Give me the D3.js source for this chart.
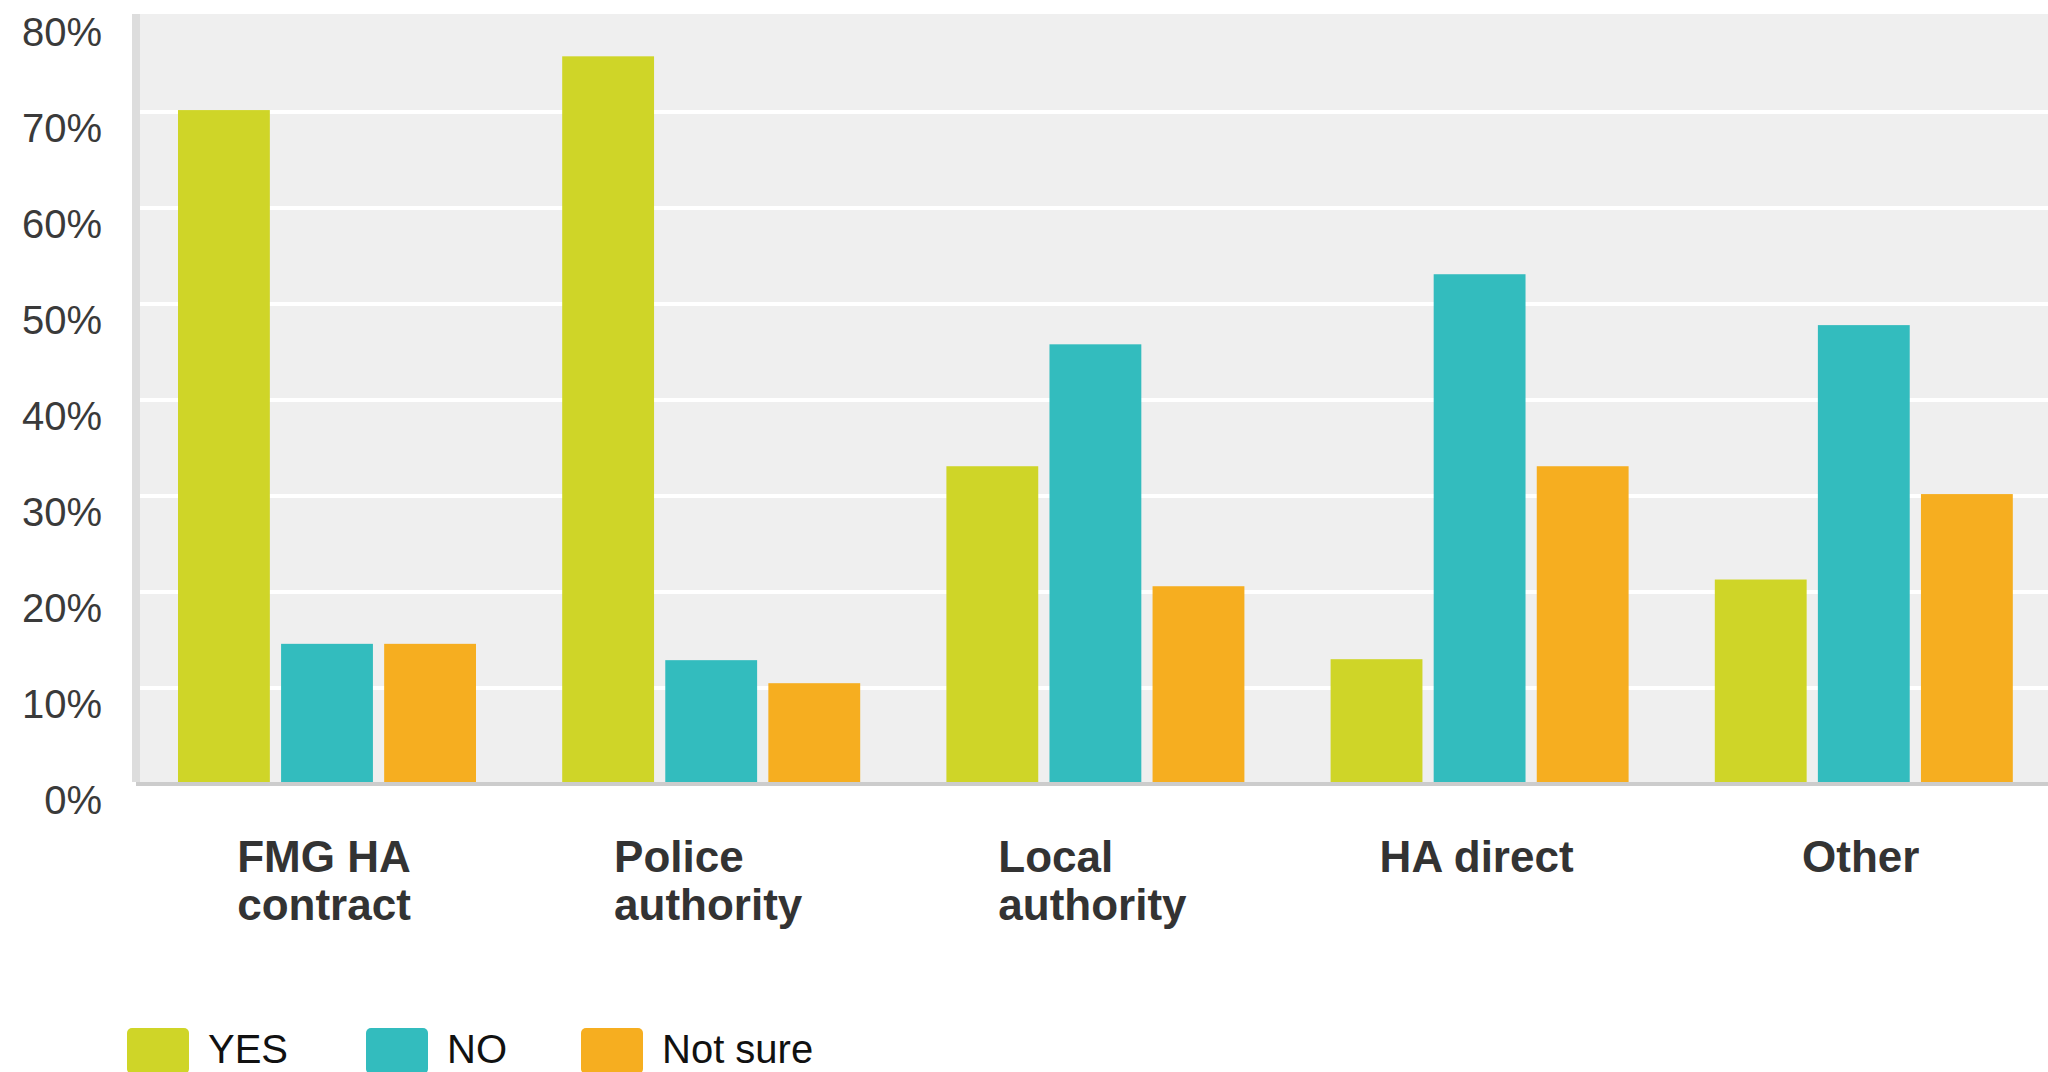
<!DOCTYPE html>
<html>
<head>
<meta charset="utf-8">
<script src="https://cdn.jsdelivr.net/npm/d3@7"></script>
<style>
  html, body { margin: 0; padding: 0; background: #ffffff; }
  svg { display: block; }
</style>
</head>
<body>
<svg id="chart" width="2048" height="1072"></svg>
<script>
// ---- Data ----
const categories = ["FMG HA contract", "Police authority", "Local authority", "HA direct", "Other"];
const categoryLines = [["FMG HA", "contract"], ["Police", "authority"], ["Local", "authority"], ["HA direct"], ["Other"]];
const seriesNames = ["YES", "NO", "Not sure"];
const yesValues = [70.2, 75.8, 33.1, 13.0, 21.3];
const noValues = [14.6, 12.9, 45.8, 53.1, 47.8];
const notSureValues = [14.6, 10.5, 20.6, 33.1, 30.2];
const seriesColors = ["#cfd528", "#33bcbe", "#f6ae20"];
const yTicks = [0, 10, 20, 30, 40, 50, 60, 70, 80];
const gridTicks = [10, 20, 30, 40, 50, 60, 70];

const seriesValues = [yesValues, noValues, notSureValues];
const rows = categories.map((c, i) => ({
  category: c,
  lines: categoryLines[i],
  values: seriesNames.map((s, j) => ({ series: s, value: seriesValues[j][i], color: seriesColors[j] }))
}));

// ---- Layout ----
const svg = d3.select("#chart");
const plotLeft = 140, plotRight = 2048, plotTop = 14, plotBottom = 782;
const legendSwatchX = [127, 366, 581];

const y = d3.scaleLinear().domain([0, 80]).range([784, 16]);
const x0 = d3.scaleBand().domain(categories).range([136, 2057]).padding(0);
const x1 = d3.scaleBand().domain(seriesNames).range([42, 340]).paddingInner(0.109).paddingOuter(0);

// plot background
svg.append("rect")
  .attr("x", plotLeft).attr("y", plotTop)
  .attr("width", plotRight - plotLeft).attr("height", plotBottom - plotTop)
  .attr("fill", "#efefef");
// left border
svg.append("rect")
  .attr("x", 132).attr("y", plotTop)
  .attr("width", 8).attr("height", plotBottom - plotTop)
  .attr("fill", "#dddddd");

// gridlines
svg.append("g").selectAll("line").data(gridTicks).join("line")
  .attr("x1", plotLeft).attr("x2", plotRight)
  .attr("y1", d => y(d)).attr("y2", d => y(d))
  .attr("stroke", "#ffffff").attr("stroke-width", 4);

// bars
const groups = svg.append("g").selectAll("g").data(rows).join("g")
  .attr("transform", d => `translate(${x0(d.category)},0)`);
groups.selectAll("rect").data(d => d.values).join("rect")
  .attr("x", d => x1(d.series))
  .attr("width", x1.bandwidth())
  .attr("y", d => y(d.value))
  .attr("height", d => y(0) - y(d.value))
  .attr("fill", d => d.color);

// bottom axis line
svg.append("rect")
  .attr("x", 136).attr("y", 782)
  .attr("width", plotRight - 136).attr("height", 4)
  .attr("fill", "#cccccc");

// y axis labels
const yAxis = d3.axisLeft(y).tickValues(yTicks).tickFormat(d => d + "%").tickSize(0).tickPadding(0);
const yg = svg.append("g").attr("transform", "translate(102,0)").call(yAxis);
yg.select(".domain").remove();
yg.selectAll("text")
  .attr("dy", null)
  .attr("y", 29)
  .attr("font-family", "'Liberation Sans', Arial, sans-serif")
  .attr("font-size", 40)
  .attr("fill", "#3a3a3a");

// category labels (block centred, lines left-aligned)
const catG = svg.append("g");
rows.forEach(r => {
  const cx = x0(r.category) + (x1.range()[0] + x1.range()[1]) / 2 - 3;
  const t = catG.append("text")
    .attr("font-family", "'Liberation Sans', Arial, sans-serif")
    .attr("font-weight", "bold")
    .attr("font-size", 44)
    .attr("fill", "#333333");
  const spans = r.lines.map((ln, i) => t.append("tspan").attr("y", 872 + i * 48).text(ln));
  const maxW = d3.max(spans, s => s.node().getComputedTextLength());
  spans.forEach(s => s.attr("x", cx - maxW / 2));
});

// legend
const legend = svg.append("g");
seriesNames.forEach((s, i) => {
  const lx = legendSwatchX[i];
  legend.append("rect")
    .attr("x", lx).attr("y", 1028)
    .attr("width", 62).attr("height", 46)
    .attr("rx", 5).attr("ry", 5)
    .attr("fill", seriesColors[i]);
  legend.append("text")
    .attr("x", lx + 81).attr("y", 1063)
    .attr("font-family", "'Liberation Sans', Arial, sans-serif")
    .attr("font-size", 40)
    .attr("fill", "#111111")
    .text(s);
});
</script>
</body>
</html>
